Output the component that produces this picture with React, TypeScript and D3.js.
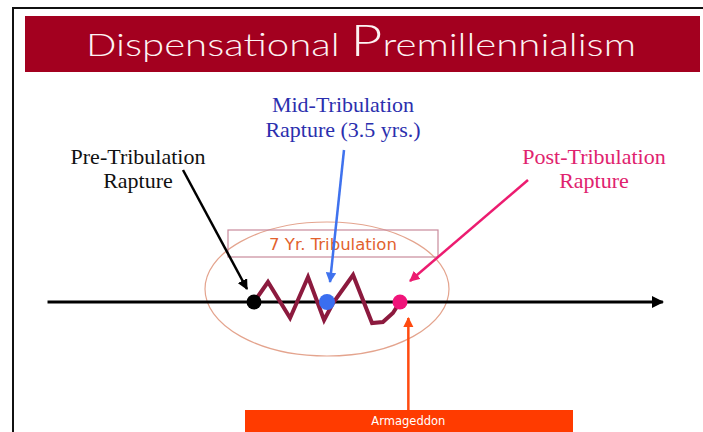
import React from "react";
import * as d3 from "d3";

// ---- data ----
const titleParts = ["Dispensational ", "P", "remillennialism"];
const raptureLabels = [
  { id: "pre", lines: ["Pre-Tribulation", "Rapture"], year: 0 },
  { id: "mid", lines: ["Mid-Tribulation", "Rapture (3.5 yrs.)"], year: 3.5 },
  { id: "post", lines: ["Post-Tribulation", "Rapture"], year: 7 },
];
const raptureYears = [0, 3.5, 7];
const tribulationLabel = "7 Yr. Tribulation";
const armageddonLabel = "Armageddon";
const armageddonYear = 7.4;
const timelineExtent = [-9.9, 19.6];
const waveYears = [0, 0.67, 1.73, 2.59, 3.36, 3.79, 4.75, 5.66, 6.18, 6.66, 7];
const waveAmp = [0, 0.8, -0.64, 1.0, -0.72, -0.04, 1.08, -0.84, -0.8, -0.44, 0];

const W = 703;
const H = 432;

export default function App() {
  const x = d3.scaleLinear().domain([0, 7]).range([254, 400]);
  const y = d3.scaleLinear().domain([-1, 1]).range([327, 277]);
  const axisY = y(0);

  const wave = d3
    .line<number>()
    .x((_, i) => x(waveYears[i]))
    .y((d) => y(d))
    .curve(d3.curveLinear)(waveAmp);

  const dotColors = ["#000000", "#3a6ef0", "#f0147a"];
  const labelColors = ["#111111", "#2b2fae", "#e0226e"];
  const arrowColors = ["#000000", "#3f72ee", "#ec1c70"];
  const labelPos = [
    { cx: 138, y1: 164, y2: 188 },
    { cx: 343, y1: 112, y2: 137 },
    { cx: 594, y1: 164, y2: 188 },
  ];
  const arrows = [
    { x1: 183, y1: 170, x2: 247, y2: 289 },
    { x1: 344, y1: 150, x2: 330, y2: 282 },
    { x1: 528, y1: 180, x2: 410, y2: 281 },
  ];

  const ax = x(armageddonYear);

  return (
    <svg
      width={W}
      height={H}
      style={{ position: "absolute", left: 0, top: 0, background: "#fff" }}
    >
      <defs>
        {arrowColors.map((c, i) => (
          <marker
            key={i}
            id={`ah${i}`}
            viewBox="0 0 10 10"
            refX="9"
            refY="5"
            markerWidth="4.2"
            markerHeight="4.2"
            orient="auto"
            markerUnits="strokeWidth"
          >
            <path d="M0,0 L10,5 L0,10 z" fill={c} />
          </marker>
        ))}
        <marker
          id="ahO"
          viewBox="0 0 10 10"
          refX="9"
          refY="5"
          markerWidth="4.2"
          markerHeight="4.2"
          orient="auto"
          markerUnits="strokeWidth"
        >
          <path d="M0,0 L10,5 L0,10 z" fill="#ff4a10" />
        </marker>
        <marker
          id="ahAxis"
          viewBox="0 0 10 10"
          refX="9"
          refY="5"
          markerWidth="4.5"
          markerHeight="4"
          orient="auto"
          markerUnits="strokeWidth"
        >
          <path d="M0,0 L10,5 L0,10 z" fill="#000" />
        </marker>
      </defs>

      {/* frame */}
      <rect x={13} y={8} width={720} height={450} fill="#fff" stroke="#111" strokeWidth={2} />
      {/* banner */}
      <rect x={25} y={16} width={675} height={56} fill="#a3001f" />
      <text
        x={361}
        y={56}
        textAnchor="middle"
        fill="#fdf3f3"
        fontFamily="Lato, 'Noto Sans', 'DejaVu Sans', sans-serif"
        fontWeight={300}
        fontSize={32}
        textLength={550}
        lengthAdjust="spacingAndGlyphs"
      >
        <tspan>{titleParts[0]}</tspan>
        <tspan fontSize={44}>{titleParts[1]}</tspan>
        <tspan>{titleParts[2]}</tspan>
      </text>

      {/* ellipse */}
      <ellipse cx={327} cy={289} rx={122} ry={67} fill="none" stroke="#e4a48e" strokeWidth={1.2} />
      {/* tribulation box */}
      <rect x={228} y={230} width={210} height={27} fill="none" stroke="#c98a9c" strokeWidth={1.2} />
      <text
        x={333}
        y={250}
        textAnchor="middle"
        fill="#e2622e"
        fontFamily="'DejaVu Sans', Verdana, sans-serif"
        fontSize={16.5}
      >
        {tribulationLabel}
      </text>

      {/* timeline axis */}
      <line
        x1={x(timelineExtent[0])}
        y1={axisY}
        x2={x(timelineExtent[1])}
        y2={axisY}
        stroke="#000"
        strokeWidth={3}
        markerEnd="url(#ahAxis)"
      />

      {/* wave */}
      <path d={wave ?? ""} fill="none" stroke="#8c1a3e" strokeWidth={4} strokeLinejoin="miter" />

      {/* dots */}
      {raptureYears.map((yr, i) => (
        <circle key={i} cx={x(yr)} cy={axisY} r={i === 1 ? 8 : 7.5} fill={dotColors[i]} />
      ))}

      {/* arrows */}
      {arrows.map((a, i) => (
        <line
          key={i}
          x1={a.x1}
          y1={a.y1}
          x2={a.x2}
          y2={a.y2}
          stroke={arrowColors[i]}
          strokeWidth={2.5}
          markerEnd={`url(#ah${i})`}
        />
      ))}
      <line x1={ax} y1={410} x2={ax} y2={318} stroke="#ff4a10" strokeWidth={2.5} markerEnd="url(#ahO)" />

      {/* labels */}
      {raptureLabels.map((l, i) => (
        <text
          key={l.id}
          textAnchor="middle"
          fill={labelColors[i]}
          fontFamily="'Liberation Serif', 'Times New Roman', serif"
          fontSize={22}
        >
          <tspan x={labelPos[i].cx} y={labelPos[i].y1}>
            {l.lines[0]}
          </tspan>
          <tspan x={labelPos[i].cx} y={labelPos[i].y2}>
            {l.lines[1]}
          </tspan>
        </text>
      ))}

      {/* armageddon */}
      <rect x={245} y={410} width={328} height={26} fill="#ff3b00" />
      <text
        x={ax}
        y={425}
        textAnchor="middle"
        fill="#fff"
        fontFamily="'DejaVu Sans', Verdana, sans-serif"
        fontSize={11.5}
      >
        {armageddonLabel}
      </text>
    </svg>
  );
}
